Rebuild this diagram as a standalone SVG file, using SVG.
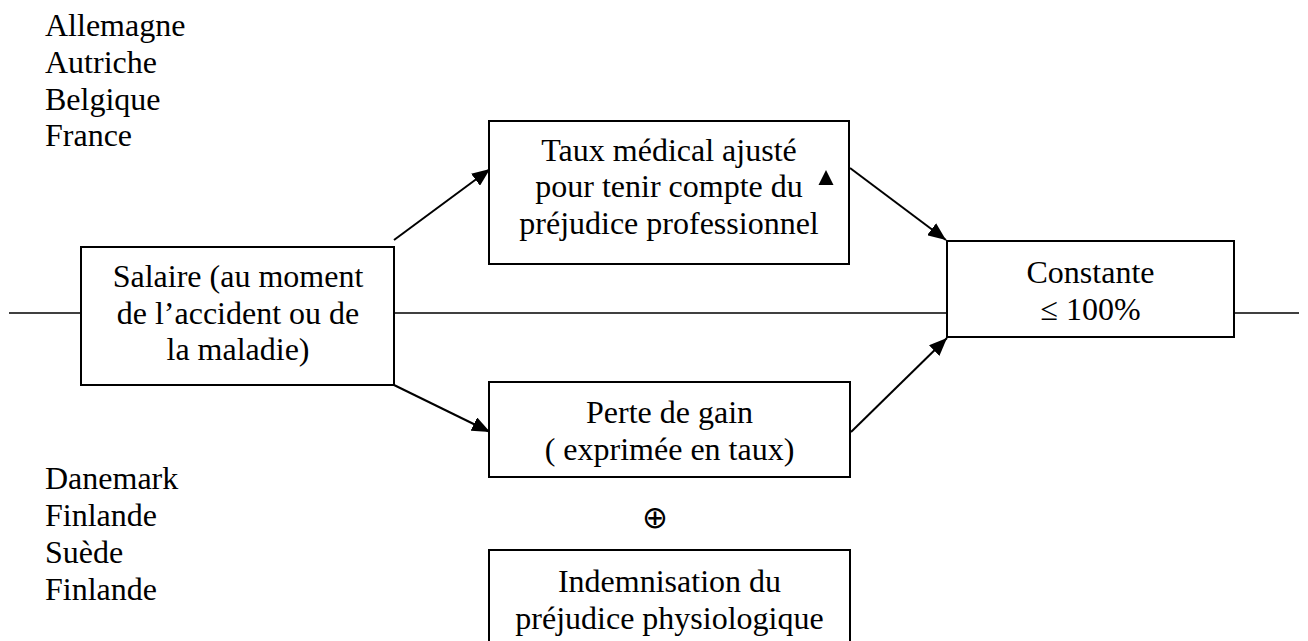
<svg xmlns="http://www.w3.org/2000/svg" width="1308" height="641" viewBox="0 0 1308 641">
<style>
text{font-family:"Liberation Serif","Times New Roman",serif;font-size:32px;fill:#000}
.c{text-anchor:middle}
.box{fill:#fff;stroke:#000;stroke-width:2}
.ln{stroke:#000;stroke-width:1.6;fill:none}
.ar{stroke:#000;stroke-width:2;fill:none;marker-end:url(#ah)}
.sym{font-family:"DejaVu Sans",sans-serif;font-size:31px;font-weight:200}
</style>
<defs>
<marker id="ah" markerUnits="userSpaceOnUse" markerWidth="19" markerHeight="15" refX="18" refY="7.5" orient="auto">
<path d="M0,0 L18,7.5 L0,15 Z" fill="#000"/>
</marker>
</defs>
<g id="connectors">
<line class="ln" x1="9" y1="313" x2="81" y2="313"/>
<line class="ln" x1="394" y1="313" x2="947" y2="313"/>
<line class="ln" x1="1234" y1="313" x2="1299" y2="313"/>
<line class="ar" x1="394" y1="240" x2="490" y2="169"/>
<line class="ar" x1="850" y1="168" x2="946" y2="240"/>
<line class="ar" x1="394" y1="385" x2="490" y2="432"/>
<line class="ar" x1="851" y1="432" x2="947" y2="338"/>
</g>
<g id="countries-top">
<text x="45" y="36">Allemagne</text>
<text x="45" y="72.8">Autriche</text>
<text x="45" y="109.6">Belgique</text>
<text x="45" y="146.4">France</text>
</g>
<g id="countries-bottom">
<text x="45" y="489">Danemark</text>
<text x="45" y="526">Finlande</text>
<text x="45" y="563">Suède</text>
<text x="45" y="600">Finlande</text>
</g>
<g id="salaire">
<rect class="box" x="81" y="247" width="313" height="138"/>
<text class="c" x="238" y="287">Salaire (au moment</text>
<text class="c" x="238" y="323.5">de l’accident ou de</text>
<text class="c" x="238" y="360">la maladie)</text>
</g>
<g id="taux">
<rect class="box" x="489" y="121" width="360" height="143"/>
<text class="c" x="669" y="160.5">Taux médical ajusté</text>
<text class="c" x="669" y="197">pour tenir compte du</text>
<text class="c" x="669" y="233.5">préjudice professionnel</text>
<polygon points="826,170 833.5,185 818.5,185" fill="#000"/>
</g>
<g id="constante">
<rect class="box" x="947" y="241" width="287" height="96"/>
<text class="c" x="1090.5" y="282.5">Constante</text>
<text class="c" x="1090.5" y="319.5">≤ 100%</text>
</g>
<g id="perte">
<rect class="box" x="489" y="382" width="361" height="95"/>
<text class="c" x="669.5" y="422.5">Perte de gain</text>
<text class="c" x="669.5" y="459.5">( exprimée en taux)</text>
</g>
<g id="plus">
<text class="c sym" x="655" y="528">⊕</text>
</g>
<g id="indemnisation">
<rect class="box" x="489" y="550" width="361" height="100"/>
<text class="c" x="669.5" y="592">Indemnisation du</text>
<text class="c" x="669.5" y="628.5">préjudice physiologique</text>
</g>
</svg>
